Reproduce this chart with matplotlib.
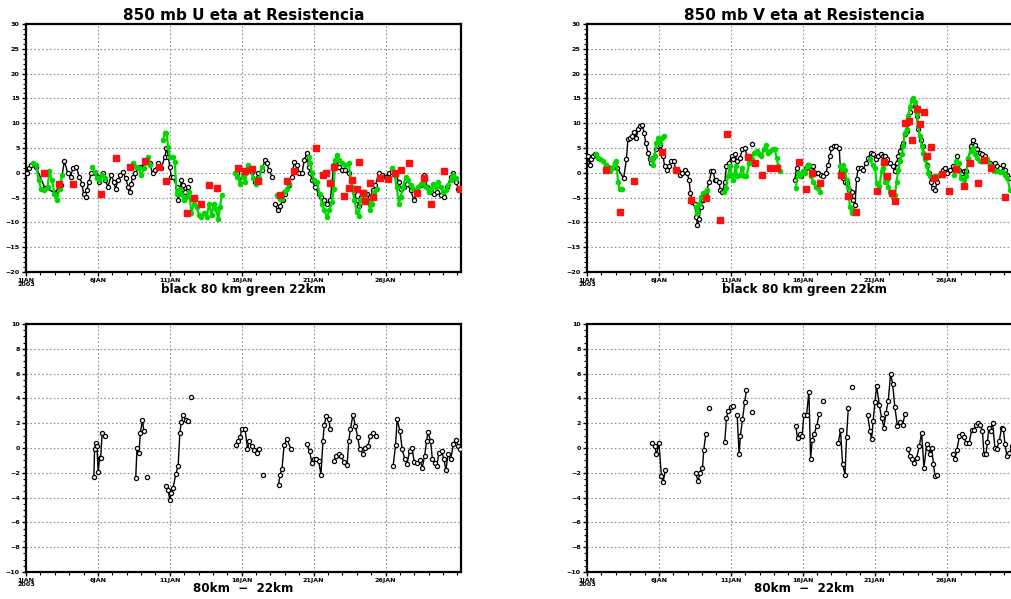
import numpy as np
import matplotlib
matplotlib.use("Agg")
import matplotlib.pyplot as plt

nan = float("nan")

# ---------------- data (day since 1 JAN 2003 00Z) ----------------
xtick_days = [0, 5, 10, 15, 20, 25]
xtick_labels = ["1JAN\n2003", "6JAN", "11JAN", "16JAN", "21JAN", "26JAN"]

# --- U panel ---
u80_t = [0.1, 0.2, 0.35, 0.7, 1.3, 2.0, 2.4, 2.67, 2.9, 3.1, 3.26, 3.5, 3.7, 3.9, 4.0, 4.14, 4.23, 4.37, 4.53,
         4.77, 5.0, 5.1, 5.35, 5.5, 5.7, 5.93, 6.1, 6.23, 6.4, 6.56, 6.74, 6.93, 7.1, 7.2, 7.3, 7.44, 7.56, 7.9,
         8.6, 8.8, 8.95, 9.2, 9.4, 9.65, 9.77, 9.9, 10.0, 10.1, 10.23, 10.47, 10.58, 10.7, 10.8, 10.9, 11.05, 11.28,
         nan, 11.4, nan,
         14.65, 15.0, 15.2, 15.47, 15.7, 15.93, 16.16, 16.4, 16.63, 16.74, 16.93, 17.1, nan,
         17.3, 17.5, 17.67, 17.86, 18.0, 18.26, 18.5, 18.65, 18.84, 19.0, 19.2, 19.35, 19.53, 19.65, 19.77, 19.9,
         20.1, 20.35, 20.5, 20.7, 20.93, 21.16, 21.4, 21.6, 21.74, 21.98, 22.2, 22.44, 22.6, 22.8, 23.0, 23.14,
         23.3, 23.5, 23.7, 23.95, 24.14, 24.3, 24.53, 24.77, 25.0, 25.23, 25.47, 25.7, 25.93, 26.05, 26.28, 26.5,
         26.74, 26.98, 27.2, 27.44, 27.67, 27.9, 28.14, 28.37, 28.6, 28.84, 29.07, 29.3, 29.53, 29.72, 29.9, 30.05]
u80_v = [-0.1, 0.9, 1.6, 1.2, -3.0, -4.0, -2.5, 2.4, -0.1, -0.8, 0.9, 1.2, -0.8, -2.2, -4.2, -4.9, -3.5, -1.8, -0.1,
         -0.1, -0.8, -1.8, -0.1, -1.5, -2.8, -0.5, -1.8, -3.2, -1.5, -0.5, 0.2, -1.1, -2.8, -3.9, -2.2, -0.8, -0.1, 1.2,
         1.9, -0.1, 0.5, 1.9, 0.9, 3.2, 4.9, 3.2, 1.2, -0.8, -0.8, -2.8, -5.5, -3.9, -1.5, -2.5, -3.9, -2.8,
         nan, -1.5, nan,
         -0.1, -1.5, -0.1, 0.9, 0.2, -1.8, -0.1, 0.5, 2.6, 1.9, 0.5, -0.8, nan,
         -6.2, -7.6, -6.6, -5.5, -4.2, -2.5, -0.8, 2.2, 1.6, -0.1, -0.1, 2.6, 3.9, 1.2, -0.1, -1.5,
         -2.8, -4.2, -4.9, -5.5, -6.2, -5.5, 1.6, 2.6, 1.2, 0.5, 0.5, -0.1, -1.5, -3.9, -5.5, -6.6,
         -4.9, -3.9, -4.2, -4.9, -3.5, -2.5, -0.1, -0.5, -0.8, -0.1, 0.2, -0.5, -1.8, -3.2, -2.8, -2.2,
         -3.5, -5.5, -4.2, -2.5, -0.5, -2.8, -3.9, -4.2, -3.9, -4.5, -4.9, -2.8, -0.8, -0.1, -1.8, -3.2]

u22_t = [0.47, 0.7, 0.88, 1.05, 1.28, 1.5, 1.63, 1.8, 1.98, 2.14, 2.33, 2.5, nan,
         4.6, 4.77, 4.93, 5.1, 5.3, 5.47, nan,
         7.44, 7.67, 7.86, 8.0, 8.2, 8.33, 8.5, 8.65, nan,
         9.53, 9.65, 9.77, 9.88, 10.0, 10.19, 10.35, 10.47, 10.58, 10.7, 10.8, 10.98, 11.16, 11.35, 11.5, 11.67,
         11.86, 12.05, 12.2, 12.37, 12.56, 12.74, 12.9, 13.07, 13.2, 13.37, 13.5, 13.6, nan,
         14.53, 14.7, 14.9, 15.07, 15.23, 15.47, 15.63, 15.8, 16.0, 16.23, 16.4, nan,
         17.44, 17.63, 17.8, 17.95, 18.14, 18.28, nan,
         19.65, 19.77, 19.88, 20.05, 20.23, 20.42, 20.58, 20.74, 20.93, 21.1, 21.28, 21.4, 21.5, 21.63, 21.8,
         21.98, 22.2, 22.44, 22.67, 22.84, 23.0, 23.14, 23.26, 23.44, 23.6, 23.77, 23.95, 24.07, 24.2, 24.4, nan,
         25.47, 25.63, 25.77, 25.93, 26.05, 26.23, 26.4, 26.56, 26.74, 26.93, 27.1, 27.26, 27.44, 27.63, 27.8,
         28.0, 28.14, 28.33, 28.5, 28.65, 28.84, 29.0, 29.2, 29.35, 29.53, 29.72, 29.9]
u22_v = [1.9, 1.6, -1.5, -3.2, -3.5, -2.8, 0.4, -1.5, -4.2, -5.5, -3.2, -0.5, nan,
         1.2, 0.2, -1.1, -1.5, -0.5, -1.1, nan,
         1.9, 1.2, 0.9, -0.5, 0.9, 2.2, 3.2, 1.6, nan,
         6.6, 8.0, 8.0, 5.3, 3.2, 3.2, 2.2, -4.2, -3.9, -3.2, -4.2, -5.5, -4.9, -3.9, -8.2, -6.2,
         -6.9, -8.6, -8.9, -8.2, -8.9, -6.2, -8.6, -6.2, -7.2, -9.3, -6.9, -4.5, nan,
         -0.1, -0.8, -2.2, -0.5, -1.8, 1.6, 0.5, -1.1, -2.2, -1.1, 1.2, nan,
         -4.5, -5.2, -5.2, -3.9, -3.2, -2.2, nan,
         3.2, 1.9, -0.1, -1.5, -1.8, -4.2, -6.2, -7.6, -8.9, -7.6, -5.9, -3.2, 2.6, 3.6, 2.6,
         1.9, 1.6, 1.9, -2.8, -5.5, -7.9, -8.8, -5.5, -3.9, -4.2, -5.9, -7.6, -6.2, -3.9, -3.2, nan,
         0.9, -0.5, -2.8, -6.2, -4.9, -2.8, -0.8, -1.5, -2.5, -3.2, -3.9, -2.8, -2.2, -1.8, -2.8,
         -3.9, -3.2, -2.2, -2.8, -1.8, -2.8, -3.9, -3.5, -2.5, -1.5, -0.5, -1.1]

uobs_t = [1.28, 2.28, 3.3, 5.23, 6.23, 7.26, 8.26, 9.26, 9.72, 11.2, 11.7, 12.2, 12.72, 13.26, 14.72, 15.23,
          15.7, 16.16, 17.63, 18.14, 18.65, 20.19, 20.65, 20.88, 21.16, 21.4, 22.14, 22.44, 22.67, 23.0, 23.14,
          23.44, 23.6, 23.9, 24.14, 24.65, 25.16, 25.65, 26.1, 26.63, 27.16, 27.67, 28.14, 29.07, 30.19]
uobs_v = [0.0, -2.3, -2.3, -4.3, 3.0, 1.2, 2.4, 1.2, -1.6, -8.1, -5.1, -6.2, -2.5, -3.0, 1.0, 0.3,
          0.7, -1.7, -4.5, -1.6, 0.3, 4.9, -0.5, -0.1, -2.0, 1.2, -4.7, -3.0, -1.5, -3.2, 2.2,
          -4.1, -5.7, -2.0, -4.9, -1.0, -1.3, -0.1, 0.5, 2.0, -4.1, -1.0, -6.2, 0.4, -3.3]

# --- V panel ---
v80_t = [0.07, 0.19, 0.3, 0.42, 0.53, 1.3, 2.1, 2.55, 2.74, 2.85, 2.97, 3.16, 3.3, 3.43, 3.55, 3.67, 3.85, 3.97,
         4.08, 4.25, 4.36, 4.48, 4.6, 4.78, 4.94, 5.1, 5.29, 5.4, 5.57, 5.7, 5.87, 6.03, 6.17, 6.33, 6.45, 6.64,
         6.8, 6.96, 7.1, 7.19, 7.33, 7.5, 7.6, 7.68, 7.8, 7.9, 8.07, 8.3, 8.5, 8.65, 8.77, 8.89, 9.0, 9.16, 9.28,
         9.42, 9.58, 9.7, 9.88, 10.05, 10.16, 10.28, 10.44, 10.63, 10.81, 10.97, 11.14, 11.28, nan, 11.44, nan,
         14.45, 14.57, 14.69, 14.85, 15.03, 15.22, 15.38, 15.55, 15.73, 15.92, 16.08, 16.24, 16.43, 16.6, 16.77,
         16.89, 17.0, 17.17, 17.35, 17.54, 17.63, 17.77, 17.94, 18.1, 18.24, 18.4, 18.52, 18.63, 18.75, 18.86,
         19.03, 19.2, 19.4, 19.56, 19.72, 19.9, 20.09, 20.26, 20.42, 20.6, 20.72, 20.88, 21.07, 21.25, 21.41,
         21.53, 21.65, 21.76, 21.88, 22.0, 22.1, 22.23, 22.34, 22.46, 22.58, 22.7, 22.8, 22.92, 23.04, 23.2,
         23.34, 23.5, 23.66, 23.8, 23.9, 24.04, 24.2, 24.36, 24.55, 24.73, 24.9, 25.06, 25.24, 25.43, 25.6,
         25.75, 25.9, 26.05, 26.2, 26.36, 26.52, 26.68, 26.82, 26.98, 27.14, 27.33, 27.5, 27.68, 27.84, 28.0,
         28.2, 28.37, 28.5, 28.72, 28.9, 29.07, 29.23, 29.42]
v80_v = [3.3, 1.6, 2.7, 3.3, 3.8, 1.5, 1.0, -1.1, 2.7, 6.9, 7.1, 7.4, 8.2, 7.1, 8.8, 9.5, 9.6, 8.1,
         6.1, 4.0, 2.7, 2.0, 3.0, 4.7, 5.4, 5.7, 3.3, 1.3, 0.6, 1.3, 2.3, 2.4, 0.6, 0.3, -0.4, -0.1,
         0.6, -0.1, -1.4, -4.1, -5.9, -6.2, -8.9, -10.6, -9.3, -6.9, -5.5, -3.8, -1.8, 0.3, 0.3, -1.4, -1.4, -1.8, -3.5,
         -3.8, -1.8, 1.3, 2.0, 3.3, 2.7, 3.7, 2.3, 3.0, 4.7, 5.0, 3.3, 2.0, nan, 5.9, nan,
         -1.4, 1.0, -0.4, -0.7, -0.1, 1.0, 1.6, 0.6, 1.3, -0.1, -0.1, -0.4, -0.7, -0.1, 1.6,
         3.3, 5.0, 5.5, 5.5, 5.0, 0.3, -1.1, -1.8, -2.1, -3.5, -3.8, -5.5, -6.5, -1.3, 1.0,
         1.0, 0.6, 2.0, 3.0, 4.0, 3.7, 2.7, 3.3, 3.7, 3.3, 3.3, 2.7, 2.0, 1.3, 0.3,
         2.0, 3.3, 4.4, 5.4, 6.1, 7.8, 8.4, 10.1, 12.2, 13.9, 14.9, 13.5, 11.5, 8.8, 6.7,
         5.4, 3.3, 1.6, -0.1, -1.8, -3.1, -3.5, -1.8, -0.4, 0.5, 1.0, -0.1, 0.6, 1.3, 1.0,
         3.3, 0.6, -0.1, 0.3, 0.3, 2.7, 5.4, 6.7, 5.7, 4.7, 4.0, 3.7, 3.3, 2.3, 2.0,
         1.6, 2.0, 1.3, 1.0, 1.6, 0.6, -0.4, -1.1]

v22_t = [0.6, 0.77, 0.93, 1.11, 1.3, 1.46, 1.62, 1.76, 1.93, 2.04, 2.16, 2.27, 2.46, nan,
         4.48, 4.6, 4.71, 4.83, 4.94, 5.06, 5.22, 5.36, nan,
         7.56, 7.66, 7.8, 7.93, 8.07, 8.19, 8.35, nan,
         9.5, 9.65, 9.81, 9.93, 10.05, 10.16, 10.35, 10.44, 10.63, 10.81, 10.93, 11.09, 11.28, 11.44, 11.6,
         11.79, 11.97, 12.13, 12.3, 12.44, 12.6, 12.76, 12.9, 13.06, 13.18, 13.3, 13.41, nan,
         14.52, 14.64, 14.8, 14.99, 15.15, 15.31, 15.45, 15.6, 15.73, 15.92, 16.08, 16.2, nan,
         17.59, 17.7, 17.82, 17.94, 18.05, 18.17, 18.28, 18.4, 18.52, nan,
         19.68, 19.86, 20.02, 20.14, 20.33, 20.49, 20.6, 20.72, 20.84, 20.95, 21.07, 21.25, 21.41, 21.53, 21.65,
         21.76, 21.88, 22.0, 22.1, 22.23, 22.34, 22.46, 22.58, 22.7, 22.8, 22.92, 23.04, 23.16, 23.27, 23.39,
         23.5, 23.62, 23.74, 23.85, 24.04, 24.2, 24.36, 24.55, 24.73, nan,
         25.53, 25.67, 25.84, 26.0, 26.2, 26.36, 26.52, 26.68, 26.86, 26.98, 27.14, 27.33, 27.5, 27.68, 27.84,
         28.0, 28.2, 28.37, 28.5, 28.72, 28.9, 29.07, 29.23, 29.42]
v22_v = [3.7, 3.0, 2.8, 2.3, 1.6, 1.0, 0.3, 1.0, 2.0, 2.3, -1.8, -3.3, -3.3, nan,
         2.7, 1.6, 3.3, 6.1, 7.1, 6.1, 7.1, 7.4, nan,
         -6.9, -8.2, -6.2, -4.8, -4.1, -4.8, -3.5, nan,
         -3.8, -3.1, -0.7, 1.3, -0.4, -1.4, 1.3, -0.7, -0.4, 1.0, -0.7, -0.7, 2.0, 2.7, 4.0,
         4.4, 3.7, 3.3, 4.7, 5.7, 4.0, 4.4, 4.7, 4.7, 3.0, 1.4, 0.3, nan,
         -3.1, -0.1, -0.7, 0.3, -0.1, 1.3, 1.6, -0.7, -1.8, -2.8, -3.1, -3.8, nan,
         1.3, -0.1, 1.6, 0.6, -1.4, -2.8, -6.9, -8.2, -7.6, nan,
         2.7, 1.6, 1.0, -2.1, -2.7, 0.3, 1.0, -1.8, -1.4, -2.8, -3.8, -4.8, -4.5, -1.8, 0.6,
         2.3, 3.7, 5.4, 8.1, 8.8, 11.5, 13.2, 14.7, 15.0, 14.2, 11.8, 9.5, 7.4, 5.4, 4.0,
         2.7, 1.3, -0.1, -0.7, -1.1, -0.7, -0.7, -0.4, -0.4, nan,
         -0.4, 2.3, 2.0, -1.1, -1.4, -0.7, 3.0, 4.4, 5.0, 3.7, 3.0, 2.3, 2.3, 2.7, 2.8,
         1.6, 0.6, 0.3, 0.3, 0.1, 0.1, -0.4, -1.1, -3.5]

vobs_t = [1.3, 2.32, 3.3, 5.24, 6.2, 7.26, 8.26, 9.23, 9.74, 11.2, 11.67, 12.2, 12.71, 13.22, 14.71, 15.22,
          15.68, 16.2, 17.63, 18.17, 18.7, 20.19, 20.65, 20.88, 21.18, 21.41, 22.1, 22.4, 22.63, 22.92, 23.16,
          23.43, 23.62, 23.9, 24.13, 24.67, 25.2, 25.67, 26.2, 26.66, 27.16, 27.63, 28.1, 29.1]
vobs_v = [0.5, -7.9, -1.6, 4.1, 0.5, -5.5, -5.0, -9.6, 7.8, 3.2, 2.0, -0.4, 1.0, 1.0, 2.1, -3.3,
          -0.1, -2.0, -0.4, -4.7, -7.9, -3.6, 2.1, -0.6, -4.0, -5.6, 10.1, 10.5, 6.6, 12.9, 9.8,
          12.2, 3.3, 5.2, -1.1, -0.3, -3.7, 0.7, -2.7, 2.0, -2.0, 2.5, 1.0, -4.8]

# --- differences 80km - 22km ---
du_t = [4.72, 4.77, 4.84, 4.93, 5.02, 5.12, 5.19, 5.3, 5.49, nan,
        7.63, 7.72, 7.86, 7.95, 8.1, 8.19, nan, 8.44, nan,
        9.77, 9.88, 10.0, 10.1, 10.23, 10.42, 10.58, 10.7, 10.8, 10.93, 11.1, 11.28, nan, 11.44, nan,
        14.6, 14.72, 14.88, 15.0, 15.23, 15.4, 15.53, 15.7, 15.86, 16.05, 16.23, nan, 16.5, nan,
        17.56, 17.67, 17.8, 17.95, 18.14, 18.42, nan,
        19.53, 19.72, 19.88, 20.0, 20.19, 20.35, 20.51, 20.65, 20.74, 20.88, 21.05, 21.16, nan,
        21.4, 21.58, 21.74, 21.9, 22.1, 22.33, 22.44, 22.56, 22.74, 22.9, 23.07, 23.2, 23.44, 23.6, 23.77,
        23.95, 24.14, 24.37, nan,
        25.53, 25.7, 25.81, 26.0, 26.16, 26.33, 26.5, 26.67, 26.84, 27.0, 27.2, 27.4, 27.55, 27.72, 27.86,
        27.95, 28.14, 28.26, 28.42, 28.56, 28.72, 28.9, 29.07, 29.2, 29.35, 29.53, 29.72, 29.9, 30.05, 30.2]
du_v = [-2.35, -0.05, 0.38, 0.2, -1.95, -0.8, -0.8, 1.25, 1.0, nan,
        -2.4, 0.0, -0.4, 1.2, 2.27, 1.4, nan, -2.35, nan,
        -3.1, -3.4, -4.2, -3.6, -3.2, -2.1, -1.45, 1.25, 2.1, 2.7, 2.27, 2.2, nan, 4.1, nan,
        0.25, 0.55, 0.85, 1.5, 1.55, -0.05, 0.55, 0.15, -0.15, -0.4, -0.1, nan, -2.15, nan,
        -2.95, -2.15, -1.7, 0.25, 0.7, -0.05, nan,
        0.35, -0.25, -1.2, -0.85, -0.9, -1.05, -2.15, 0.6, 1.85, 2.6, 2.3, 1.5, nan,
        -1.05, -0.65, -0.5, -0.65, -1.1, -1.4, 0.55, 1.5, 2.7, 1.8, 0.85, -0.05, -0.45, 0.0, 0.15,
        1.0, 1.25, 1.0, nan,
        -1.45, 0.25, 2.3, 1.4, -0.1, -0.85, -1.25, -0.25, 0.0, -1.1, -1.2, -0.95, -1.6, -0.65, 0.55,
        1.3, 0.55, -0.9, -1.2, -1.45, -0.4, -0.25, -0.9, -1.8, -0.5, -0.9, 0.3, 0.65, 0.15, -0.1]

dv_t = [4.55, 4.71, 4.83, 5.01, 5.17, 5.29, 5.45, nan,
        7.56, 7.73, 7.84, 8.03, 8.12, 8.26, nan, 8.47, nan,
        9.58, 9.7, 9.81, 9.98, 10.12, nan, 10.44, 10.58, 10.67, 10.81, 10.97, 11.09, nan, 11.48, nan,
        14.52, 14.64, 14.8, 14.96, 15.08, 15.27, 15.43, 15.55, 15.66, 15.8, 15.97, 16.15, nan, 16.38, nan,
        17.47, 17.63, 17.77, 17.94, 18.05, 18.17, nan, 18.4, nan,
        19.51, 19.68, 19.79, 19.9, 20.02, 20.14, 20.33, 20.49, 20.65, 20.79, 20.95, 21.11, 21.25, 21.41, 21.58,
        21.76, 21.95, 22.11, nan,
        22.34, 22.46, 22.62, 22.74, 22.92, 23.11, 23.27, 23.43, 23.62, 23.74, 23.85, 23.97, 24.09, 24.2, 24.36, nan,
        25.43, 25.6, 25.72, 25.9, 26.05, 26.2, 26.38, 26.57, 26.75, 26.9, 27.04, 27.2, 27.33, 27.5, 27.6,
        27.75, 27.84, 27.95, 28.06, 28.2, 28.37, 28.5, 28.67, 28.83, 28.95, 29.07, 29.2, 29.38, 29.55]
dv_v = [0.38, 0.15, -0.5, 0.38, -2.27, -2.75, -1.8, nan,
        -2.05, -2.7, -2.0, -1.6, -0.15, 1.1, nan, 3.25, nan,
        0.5, 2.4, 3.0, 3.3, 3.35, nan, 2.7, -0.5, 1.0, 2.3, 3.7, 4.7, nan, 2.9, nan,
        1.75, 0.8, 1.1, 1.0, 2.65, 2.65, 4.55, -0.85, 0.65, 1.15, 1.75, 2.75, nan, 3.8, nan,
        0.38, 1.45, -1.25, -2.15, 0.9, 3.2, nan, 4.95, nan,
        2.65, 1.4, 0.7, 2.2, 3.7, 5.0, 3.45, 2.4, 1.65, 2.85, 3.8, 6.0, 5.2, 3.3, 1.8,
        2.1, 1.85, 2.75, nan,
        -0.1, -0.65, -0.9, -1.2, -0.8, 0.15, 1.25, -1.6, 0.3, 0.0, -0.5, 0.0, -1.3, -2.27, -2.2, nan,
        -0.45, -0.85, -0.15, 0.95, 1.1, 0.85, 0.38, 0.38, 1.45, 1.45, 1.85, 2.05, 1.85, 1.4, -0.5,
        -0.45, 0.45, 1.65, 1.4, 2.05, 0.0, -0.05, 0.55, 1.65, 1.55, 0.3, -0.65, -0.4, 0.15]

titles = ["850 mb U eta at Resistencia", "850 mb V eta at Resistencia"]
xlabel_top = "black 80 km green 22km"
xlabel_bot = "80km  \u2212  22km"

# ---------------- figure ----------------
W, H = 1011, 599
fig = plt.figure(figsize=(W / 100, H / 100), dpi=100)
fig.patch.set_facecolor("white")

XMAX = 30.25
GREEN = "#00d800"
RED = "#ff1010"


def make_axes(left_px, top_px, ylo, yhi, ystep, yminor):
    w_px, h_px = 435, 248
    ax = fig.add_axes([left_px / W, (H - top_px - h_px) / H, w_px / W, h_px / H])
    ax.set_xlim(0, XMAX)
    ax.set_ylim(ylo, yhi)
    ax.set_xticks(xtick_days)
    ax.set_xticklabels(xtick_labels, fontsize=4.6, fontweight="bold", linespacing=0.75)
    yt = np.arange(ylo, yhi + 0.01, ystep)
    ax.set_yticks(yt)
    ax.set_yticklabels([f"{int(v)}".replace("-", "\u2212") for v in yt], fontsize=4.6, fontweight="bold")
    ax.set_yticks(np.arange(ylo, yhi + 0.01, yminor), minor=True)
    ax.set_xticks(np.arange(0, XMAX, 1.0), minor=True)
    ax.tick_params(axis="both", which="major", length=3, width=1, pad=1.5, colors="black")
    ax.tick_params(axis="both", which="minor", length=2, width=0.8)
    ax.grid(True, which="major", color="#909090", linestyle=(0, (1.5, 2.0)), linewidth=0.8)
    for s in ax.spines.values():
        s.set_linewidth(1.6)
    return ax


def label_axes(ax, title, xlabel):
    ax.text(0.5, 1 + 9 / 248, title, transform=ax.transAxes, ha="center", va="center",
            fontsize=11, fontweight="bold", family="DejaVu Sans")
    ax.text(0.5, -17 / 248, xlabel, transform=ax.transAxes, ha="center", va="center",
            fontsize=8.6, fontweight="bold", family="DejaVu Sans")


# top panels
for left, tit, (t80, v80, t22, v22, tob, vob) in zip(
        [26, 587], titles,
        [(u80_t, u80_v, u22_t, u22_v, uobs_t, uobs_v),
         (v80_t, v80_v, v22_t, v22_v, vobs_t, vobs_v)]):
    ax = make_axes(left, 24, -20, 30, 5, 1)
    ax.plot(t80, v80, color="black", lw=1.0, marker="o", ms=3.0, mfc="white", mec="black", mew=0.9, zorder=3)
    ax.plot(t22, v22, color=GREEN, lw=1.6, marker="o", ms=3.0, mfc=GREEN, mec=GREEN, zorder=4)
    ax.plot(tob, vob, linestyle="none", marker="s", ms=4.0, mfc=RED, mec=RED, zorder=5)
    label_axes(ax, tit, xlabel_top)

# bottom panels
for left, (td, vd) in zip([26, 587], [(du_t, du_v), (dv_t, dv_v)]):
    ax = make_axes(left, 324, -10, 10, 2, 0.5)
    ax.plot(td, vd, color="black", lw=1.0, marker="o", ms=3.0, mfc="white", mec="black", mew=0.9, zorder=3)
    label_axes(ax, "", xlabel_bot)

fig.savefig("out.png", dpi=100, facecolor="white")
